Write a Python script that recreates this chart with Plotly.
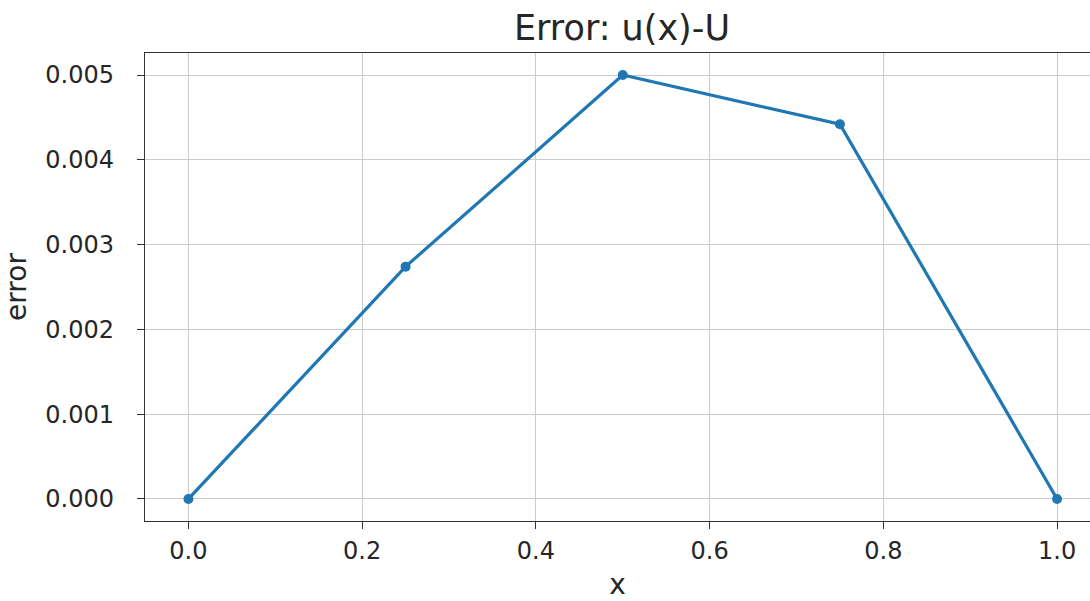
import plotly.graph_objects as go

x_vals = [0.0, 0.25, 0.5, 0.75, 1.0]
err_vals = [0.0, 0.00274, 0.005, 0.00442, 0.0]
x_ticks = [0.0, 0.2, 0.4, 0.6, 0.8, 1.0]
x_tick_labels = ["0.0", "0.2", "0.4", "0.6", "0.8", "1.0"]
y_ticks = [0.0, 0.001, 0.002, 0.003, 0.004, 0.005]
y_tick_labels = ["0.000", "0.001", "0.002", "0.003", "0.004", "0.005"]

W, H = 1090, 601
L, R, T, B = 145, 0, 53, 80

fig = go.Figure()
fig.add_trace(go.Scatter(
    x=x_vals, y=err_vals, mode="lines+markers",
    line=dict(color="#1f77b4", width=3.2),
    marker=dict(color="#1f77b4", size=10),
    showlegend=False,
))

font = "DejaVu Sans, sans-serif"
txt = "#262626"
fig.update_layout(
    width=W, height=H,
    margin=dict(l=L, r=R, t=T, b=B, pad=0),
    paper_bgcolor="white", plot_bgcolor="white",
    font=dict(family=font, color=txt, size=24),
    title=dict(text="Error: u(x)-U", x=(622 - L) / (W - L - R), xref="paper",
               xanchor="center", y=1 - 28 / H, yref="container", yanchor="middle",
               font=dict(size=35, family=font, color=txt)),
)
fig.update_xaxes(
    range=[-0.05, 1.05 - 10.5 / 869], tickvals=x_ticks, ticktext=x_tick_labels,
    showgrid=True, gridcolor="#cbcbcb", gridwidth=1.3, zeroline=False,
    showline=True, linecolor="#333333", linewidth=1.3, mirror=True,
    ticks="outside", ticklen=7, tickwidth=1.3, tickcolor="#333333",
    ticklabelstandoff=1,
    tickfont=dict(size=24, family=font, color=txt),
    title=dict(text="x", font=dict(size=28, family=font, color=txt), standoff=17),
)
fig.update_yaxes(
    range=[-0.00026, 0.00526], tickvals=y_ticks, ticktext=y_tick_labels,
    showgrid=True, gridcolor="#cbcbcb", gridwidth=1.3, zeroline=False,
    showline=True, linecolor="#333333", linewidth=1.3, mirror=True,
    ticks="outside", ticklen=7, tickwidth=1.3, tickcolor="#333333",
    ticklabelstandoff=18,
    tickfont=dict(size=24, family=font, color=txt),
    title=dict(text="error", font=dict(size=28, family=font, color=txt), standoff=14),
)

fig.write_html("out.html")
